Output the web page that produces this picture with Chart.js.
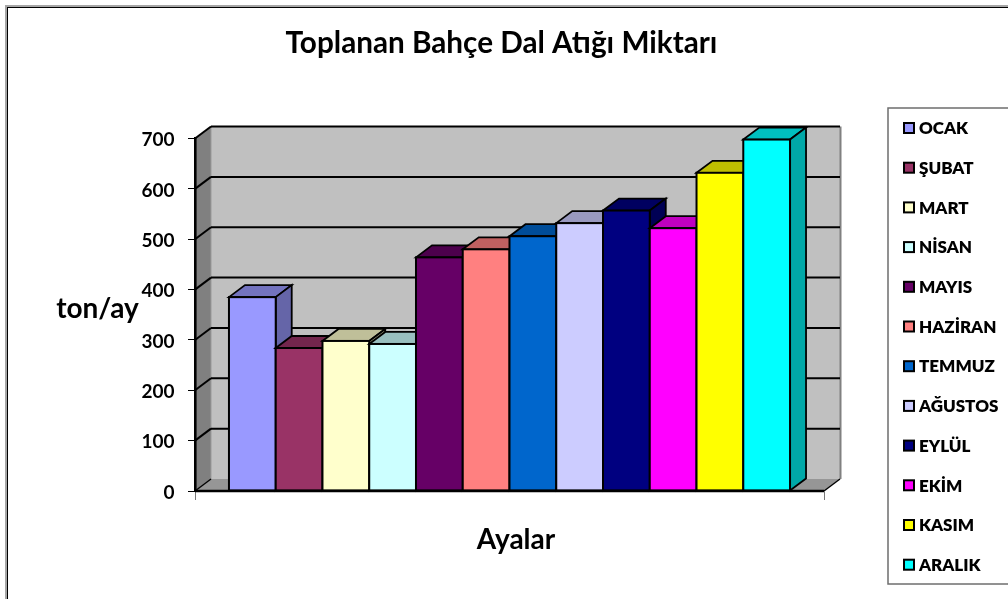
<!DOCTYPE html>
<html lang="tr">
<head>
<meta charset="utf-8">
<title>Toplanan Bahçe Dal Atığı Miktarı</title>
<style>html,body{margin:0;padding:0;background:#fff}canvas{display:block}</style>
<script src="https://cdn.jsdelivr.net/npm/chart.js@4/dist/chart.umd.min.js"></script>
</head>
<body>
<canvas id="c" width="1008" height="599"></canvas>
<script>
const months = ["OCAK","ŞUBAT","MART","NİSAN","MAYIS","HAZİRAN","TEMMUZ","AĞUSTOS","EYLÜL","EKİM","KASIM","ARALIK"];
const values = [385,284,298,292,464,480,506,532,557,522,632,698];
const colors = ["#9999FF","#993366","#FFFFCC","#CCFFFF","#660066","#FF8080","#0066CC","#CCCCFF","#000080","#FF00FF","#FFFF00","#00FFFF"];
const chartTitle = "Toplanan Bahçe Dal Atığı Miktarı";
const yTitle = "ton/ay";
const xTitle = "Ayalar";
const FONT = "Lato, Carlito, sans-serif";
const DX = 16, DY = 12;

function shade(hex, k) {
  const n = parseInt(hex.slice(1), 16);
  const c = s => Math.round(((n >> s) & 255) * k);
  return `rgb(${c(16)},${c(8)},${c(0)})`;
}
function poly(ctx, pts, fill, stroke, lw) {
  ctx.beginPath();
  pts.forEach((p, i) => i ? ctx.lineTo(p[0], p[1]) : ctx.moveTo(p[0], p[1]));
  ctx.closePath();
  if (fill) { ctx.fillStyle = fill; ctx.fill(); }
  if (stroke) { ctx.strokeStyle = stroke; ctx.lineWidth = lw; ctx.stroke(); }
}
function line(ctx, x1, y1, x2, y2, color, lw) {
  ctx.beginPath(); ctx.moveTo(x1, y1); ctx.lineTo(x2, y2);
  ctx.strokeStyle = color; ctx.lineWidth = lw; ctx.stroke();
}

const scene3d = {
  id: "scene3d",
  beforeLayout(chart) {
    const lg = chart.legend;
    if (lg && !lg._wrapped) {
      const f = lg.fit;
      lg.fit = function () { f.call(this); this.width = 184; };
      lg._wrapped = true;
    }
  },
  afterLayout(chart) {
    const lg = chart.legend;
    lg.left = 880.3; lg.right = 1008; lg.width = 127.7;
    lg.top = 97.6; lg.bottom = 599; lg.height = 501.4;
    chart.titleBlock.left -= 2.5; chart.titleBlock.right -= 2.5;
  },
  beforeDraw(chart) {
    const ctx = chart.ctx, a = chart.chartArea, y = chart.scales.y;
    const L = a.left, R = a.right, B = a.bottom, T = a.top;
    ctx.save();
    // frame of the sheet
    ctx.fillStyle = "#a6a6a6";
    ctx.fillRect(5, 5, 1003, 2); ctx.fillRect(5, 5, 2, 594);
    ctx.fillStyle = "#000";
    ctx.fillRect(7, 7, 1001, 1); ctx.fillRect(7, 7, 1, 592);
    // walls and floor
    poly(ctx, [[L + DX, T - DY], [R + DX, T - DY], [R + DX, B - DY], [L + DX, B - DY]], "#c0c0c0");
    poly(ctx, [[L, T], [L + DX, T - DY], [L + DX, B - DY], [L, B]], "#808080");
    poly(ctx, [[L, B], [L + DX, B - DY], [R + DX, B - DY], [R, B]], "#969696");
    line(ctx, L + DX, T - DY, L + DX, B - DY, "#9a9a9a", 1);
    line(ctx, R + DX + 0.5, T - DY, R + DX + 0.5, B - DY, "#808080", 2);
    // grid lines carried over side wall and back wall
    y.ticks.forEach(t => {
      const py = y.getPixelForValue(t.value);
      if (t.value > 0) {
        line(ctx, L, py, L + DX, py - DY, "#000", 2);
        line(ctx, L + DX, py - DY, R + DX, py - DY, "#000", 2);
      } else {
        line(ctx, L, py, L + DX, py - DY, "#000", 1.4);
        line(ctx, R, py, R + DX, py - DY, "#000", 1.4);
      }
    });
    // legend frame
    ctx.strokeStyle = "#6e6e6e"; ctx.lineWidth = 1.5;
    ctx.strokeRect(888, 108, 130, 476);
    ctx.restore();
  },
  beforeDatasetDraw() { return false; },
  afterDatasetsDraw(chart) {
    const ctx = chart.ctx;
    ctx.save();
    chart.data.datasets.forEach((ds, i) => {
      const el = chart.getDatasetMeta(i).data[0];
      const p = el.getProps(["x", "y", "base", "width"], true);
      const l = p.x - p.width / 2, r = p.x + p.width / 2, t = p.y, b = p.base;
      const c = ds.backgroundColor;
      ctx.lineJoin = "miter";
      poly(ctx, [[l, t], [l + DX, t - DY], [r + DX, t - DY], [r, t]], shade(c, 0.75), "#000", 1.8);
      poly(ctx, [[r, t], [r + DX, t - DY], [r + DX, b - DY], [r, b]], shade(c, 0.66), "#000", 1.8);
      el.draw(ctx, chart.chartArea);
      ctx.strokeStyle = "#000"; ctx.lineWidth = 2;
      ctx.strokeRect(l, t, r - l, b - t);
    });
    ctx.restore();
  },
  afterDraw(chart) {
    const ctx = chart.ctx, a = chart.chartArea, lg = chart.legend;
    ctx.save();
    line(ctx, a.left, a.bottom, a.right, a.bottom, "#000", 2.6);
    // legend swatches, sized like the reference
    lg.legendItems.forEach((it, i) => {
      const cy = 128 + i * 39.7;
      ctx.fillStyle = it.fillStyle;
      ctx.fillRect(904, cy - 5, 10, 10);
      ctx.strokeStyle = "#000"; ctx.lineWidth = 2;
      ctx.strokeRect(904, cy - 5, 10, 10);
    });
    ctx.fillStyle = "#000";
    ctx.font = "bold 28px " + FONT;
    ctx.textBaseline = "middle";
    ctx.textAlign = "center";
    ctx.fillText(yTitle, 97.5, 309);
    ctx.fillText(xTitle, 516, 540);
    ctx.restore();
  }
};

new Chart(document.getElementById("c"), {
  type: "bar",
  data: {
    labels: [""],
    datasets: months.map((m, i) => ({
      label: m,
      data: [values[i]],
      backgroundColor: colors[i],
      borderColor: "#000",
      borderWidth: 0
    }))
  },
  options: {
    responsive: false,
    animation: false,
    devicePixelRatio: 1,
    layout: { padding: 0 },
    datasets: { bar: { barPercentage: 1, categoryPercentage: 0.892 } },
    scales: {
      x: {
        afterFit(s) { s.height = 108; },
        grid: { display: true, drawOnChartArea: false, offset: true, tickLength: 9, tickColor: "#777", tickWidth: 1 },
        border: { display: false },
        ticks: { display: false }
      },
      y: {
        min: 0, max: 700,
        afterFit(s) { s.width = 195; },
        grid: { drawOnChartArea: false, tickLength: 7, tickColor: "#000", tickWidth: 1 },
        border: { display: true, color: "#000", width: 2.6 },
        ticks: { stepSize: 100, padding: 13.5, labelOffset: 1.5, color: "#000", font: { family: FONT, size: 19, weight: "bold" } }
      }
    },
    plugins: {
      tooltip: { enabled: false },
      title: {
        display: true,
        text: chartTitle,
        color: "#000",
        font: { family: FONT, size: 29.7, weight: "bold" },
        padding: { top: 25.2, bottom: 77.7 }
      },
      legend: {
        display: true,
        position: "right",
        align: "start",
        labels: {
          boxWidth: 7.5,
          boxHeight: 7.5,
          padding: 22.7,
          color: "#000",
          font: { family: FONT, size: 17, weight: "800" },
          generateLabels(chart) {
            return Chart.defaults.plugins.legend.labels.generateLabels(chart).map(it => ({ ...it, lineWidth: 0, strokeStyle: "#000" }));
          }
        }
      }
    }
  },
  plugins: [scene3d]
});
</script>
</body>
</html>
